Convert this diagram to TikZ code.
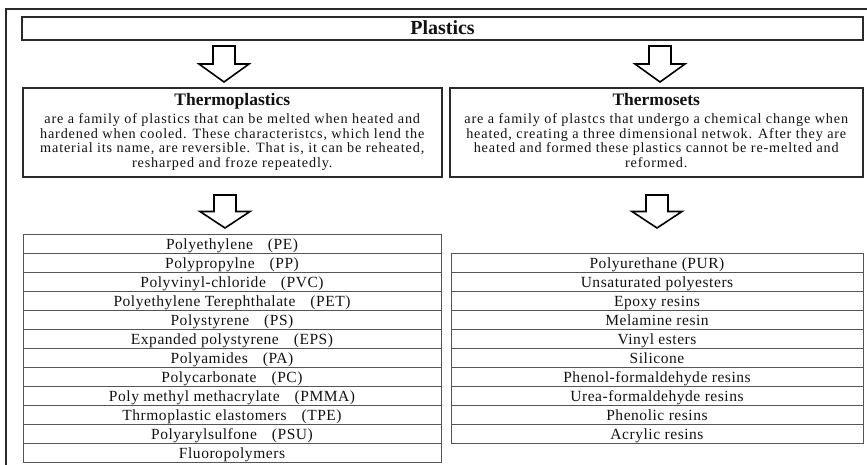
\documentclass[tikz,border=0pt]{standalone}
\usepackage{fontspec}
\setmainfont{Liberation Serif}[LetterSpace=3.5]
\newfontfamily\titlefont{Liberation Serif}
\newfontfamily\descfont{Liberation Serif}[LetterSpace=6]
\definecolor{frame}{HTML}{2A2A2A}
\definecolor{rowline}{HTML}{555555}
\definecolor{txt}{HTML}{111111}
\begin{document}
\begin{tikzpicture}[x=1pt,y=-1pt,
  every node/.style={inner sep=0pt, text=txt},
  thickbox/.style={draw=frame, line width=2pt, rectangle},
  rowbox/.style={draw=rowline, line width=1pt, rectangle, minimum height=19pt,
    text height=15pt, text depth=4pt, font=\fontsize{15.5}{17}\selectfont},
  titletext/.style={font=\titlefont\bfseries\fontsize{17.5}{19}\selectfont, anchor=base},
  desctext/.style={font=\descfont\fontsize{14.2}{14.5}\selectfont, align=center, anchor=north},
  arrowline/.style={draw=black, line width=1.6pt, fill=white, line join=miter},
  pics/blockarr/.style={code={\path[arrowline] (-11,0) -- (11,0) -- (11,#1*0.5) -- (25,#1*0.5) -- (0,#1) -- (-25,#1*0.5) -- (-11,#1*0.5) -- cycle;}}
]
\useasboundingbox (0,0) rectangle (867,465);
% outer frame (cut by the page)
\draw[draw=frame, line width=1.5pt] (6,475) -- (6,9) -- (880,9);

% top box
\node[thickbox, minimum width=841pt, text height=18pt, text depth=5pt,
  font=\titlefont\bfseries\fontsize{20}{22}\selectfont] (plastics) at (442.5,28.5) {Plastics};

% arrows from Plastics
\coordinate (a1) at (224,46);
\coordinate (a2) at (660,46);
\pic at (a1) {blockarr=36};
\pic at (a2) {blockarr=36};

% description boxes
\node[thickbox, minimum width=418.5pt, minimum height=89pt] (tp) at (232.25,132.5) {};
\node[thickbox, minimum width=413.5pt, minimum height=89pt] (ts) at (656.25,132.5) {};
\node[titletext] (tpt) at (232.25,106) {Thermoplastics};
\node[titletext] (tst) at (656.25,106) {Thermosets};
\node[desctext] (tpd) at (232.25,113.8) {are a family of plastics that can be melted when heated and\\
hardened when cooled. These characteristcs, which lend the\\
material its name, are reversible. That is, it can be reheated,\\
resharped and froze repeatedly.};
\node[desctext] (tsd) at (656.25,113.8) {are a family of plastcs that undergo a chemical change when\\
heated, creating a three dimensional netwok. After they are\\
heated and formed these plastics cannot be re-melted and\\
reformed.};

% arrows to lists
\coordinate (b1) at (225,195);
\coordinate (b2) at (657,195);
\pic at (b1) {blockarr=33};
\pic at (b2) {blockarr=33};

% thermoplastics list
\foreach \t [count=\i] in {Polyethylene\hspace{15pt}(PE),
  Polypropylne\hspace{15pt}(PP),
  Polyvinyl-chloride\hspace{15pt}(PVC),
  Polyethylene Terephthalate\hspace{15pt}(PET),
  Polystyrene\hspace{15pt}(PS),
  Expanded polystyrene\hspace{15pt}(EPS),
  Polyamides\hspace{15pt}(PA),
  Polycarbonate\hspace{15pt}(PC),
  Poly methyl methacrylate\hspace{15pt}(PMMA),
  Thrmoplastic elastomers\hspace{15pt}(TPE),
  Polyarylsulfone\hspace{15pt}(PSU),
  Fluoropolymers}
  \node[rowbox, minimum width=418pt] (l\i) at (232,{234+9.5+19*(\i-1)}) {\t};

% thermosets list
\foreach \t [count=\i] in {Polyurethane (PUR),
  Unsaturated polyesters,
  Epoxy resins,
  Melamine resin,
  Vinyl esters,
  Silicone,
  Phenol-formaldehyde resins,
  Urea-formaldehyde resins,
  Phenolic resins,
  Acrylic resins}
  \node[rowbox, minimum width=412pt] (r\i) at (657,{253+9.5+19*(\i-1)}) {\t};
\end{tikzpicture}
\end{document}
